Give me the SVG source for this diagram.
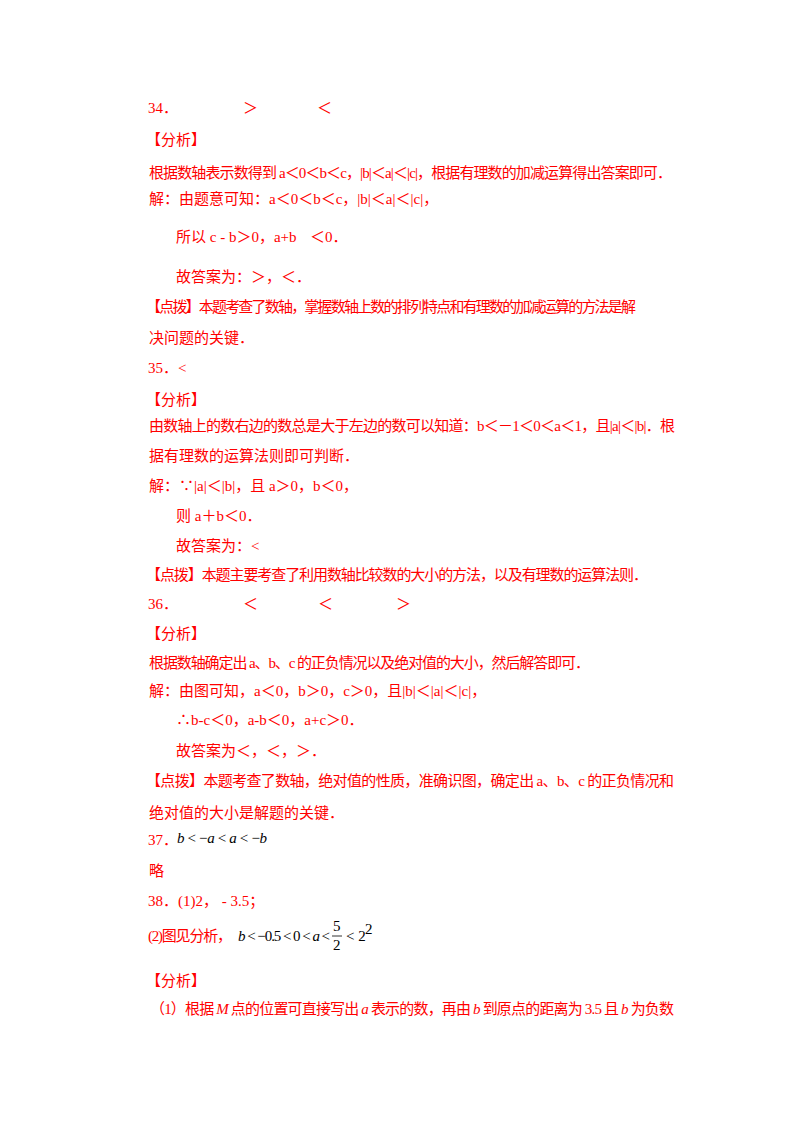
<svg xmlns="http://www.w3.org/2000/svg" width="800" height="1132" viewBox="0 0 800 1132">
<style>
text{font-family:"Liberation Serif","Noto Sans CJK SC",serif;font-size:15px;fill:#ff0000}
.m{fill:#000;font-style:italic}
.n{fill:#000;font-style:normal}
</style>
<rect width="800" height="1132" fill="#fff"/>
<text x="148" y="113">34．</text><text x="243" y="113">＞</text><text x="317" y="113">＜</text>
<text x="146" y="145">【分析】</text>
<text x="149" y="178" textLength="523">根据数轴表示数得到 a＜0＜b＜c，|b|＜a|＜|c|，根据有理数的加减运算得出答案即可．</text>
<text x="149" y="204">解：由题意可知：a＜0＜b＜c，|b|＜a|＜|c|，</text>
<text x="176" y="242">所以 c ‐ b＞0，a+b</text><text x="310" y="242">＜0．</text>
<text x="176" y="282">故答案为：＞，＜．</text>
<text x="146" y="312" textLength="490">【点拨】本题考查了数轴，掌握数轴上数的排列特点和有理数的加减运算的方法是解</text>
<text x="149" y="343">决问题的关键．</text>
<text x="148" y="373">35．&lt;</text>
<text x="146" y="405">【分析】</text>
<text x="149" y="431" textLength="526">由数轴上的数右边的数总是大于左边的数可以知道：b＜－1＜0＜a＜1，且|a|＜|b|．根</text>
<text x="149" y="461">据有理数的运算法则即可判断．</text>
<text x="149" y="491">解：∵|a|＜|b|，且 a＞0，b＜0，</text>
<text x="176" y="521">则 a＋b＜0．</text>
<text x="176" y="551">故答案为：&lt;</text>
<text x="146" y="580" textLength="502">【点拨】本题主要考查了利用数轴比较数的大小的方法，以及有理数的运算法则．</text>
<text x="148" y="609">36．</text><text x="243" y="609">＜</text><text x="318" y="609">＜</text><text x="396" y="609">＞</text>
<text x="146" y="639">【分析】</text>
<text x="149" y="668" textLength="441">根据数轴确定出 a、b、c 的正负情况以及绝对值的大小，然后解答即可．</text>
<text x="149" y="696">解：由图可知，a＜0，b＞0，c＞0，且|b|＜|a|＜|c|，</text>
<text x="176" y="725">∴b-c＜0，a-b＜0，a+c＞0．</text>
<text x="176" y="756">故答案为＜，＜，＞．</text>
<text x="146" y="786" textLength="528">【点拨】本题考查了数轴，绝对值的性质，准确识图，确定出 a、b、c 的正负情况和</text>
<text x="149" y="818">绝对值的大小是解题的关键．</text>
<text x="148" y="845">37．</text><text x="177" y="843" class="m" textLength="90">b<tspan class="n"> &lt; −</tspan>a<tspan class="n"> &lt; </tspan>a<tspan class="n"> &lt; −</tspan>b</text>
<text x="149" y="876">略</text>
<text x="148" y="906">38．(1)2， ‐ 3.5；</text>
<text x="148" y="941" textLength="84">(2)图见分析，</text>
<text x="238" y="941" class="m" textLength="92">b<tspan class="n"> &lt; −0.5 &lt; 0 &lt; </tspan>a<tspan class="n"> &lt;</tspan></text>
<text x="333" y="931" class="n" font-size="13">5</text>
<line x1="332" y1="936" x2="342" y2="936" stroke="#000" stroke-width="0.8"/>
<text x="333" y="950" class="n" font-size="13">2</text>
<text x="346" y="941" class="n">&lt; 2</text><text x="365" y="934" class="n" font-size="8">2</text>
<text x="146" y="986">【分析】</text>
<text x="150" y="1014" textLength="524">（1）根据 <tspan font-style="italic">M</tspan> 点的位置可直接写出 <tspan font-style="italic">a</tspan> 表示的数，再由 <tspan font-style="italic">b</tspan> 到原点的距离为 3.5 且 <tspan font-style="italic">b</tspan> 为负数</text>
</svg>
